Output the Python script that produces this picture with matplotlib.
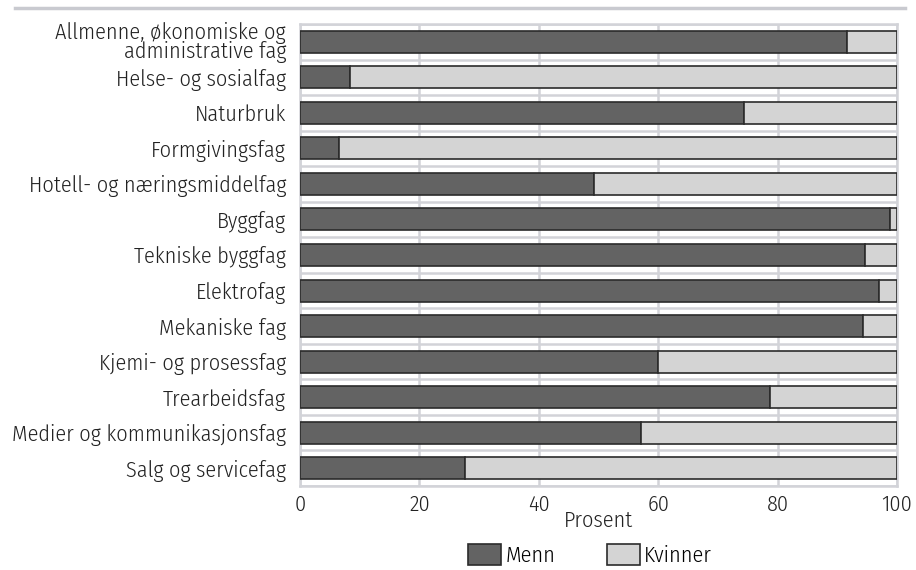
import matplotlib.pyplot as plt
from matplotlib.lines import Line2D
from matplotlib.patches import Patch

plt.rcParams['font.family'] = ['Fira Sans Condensed', 'DejaVu Sans']
plt.rcParams['font.weight'] = 300
plt.rcParams['axes.labelweight'] = 300

# Utdanningsprogram, andel menn og kvinner (prosent)
categories = [
    "Allmenne, økonomiske og\nadministrative fag",
    "Helse- og sosialfag",
    "Naturbruk",
    "Formgivingsfag",
    "Hotell- og næringsmiddelfag",
    "Byggfag",
    "Tekniske byggfag",
    "Elektrofag",
    "Mekaniske fag",
    "Kjemi- og prosessfag",
    "Trearbeidsfag",
    "Medier og kommunikasjonsfag",
    "Salg og servicefag",
]
menn = [91.6, 8.4, 74.4, 6.5, 49.3, 98.8, 94.6, 97.0, 94.3, 60.0, 78.8, 57.2, 27.6]
kvinner = [100 - m for m in menn]

dark = '#636363'
light = '#d4d4d4'
edge = '#2b2b2b'
gridc = '#d2d3d8'
txtc = '#222222'
fs = 16

fig = plt.figure(figsize=(9.16, 5.70), dpi=100)
ax = fig.add_axes([300 / 916, 1 - 486 / 570, 597 / 916, 462 / 570])

y = list(range(len(categories)))
ax.barh(y, menn, height=0.62, color=dark, edgecolor=edge, linewidth=1.2, zorder=3)
ax.barh(y, kvinner, left=menn, height=0.62, color=light, edgecolor=edge, linewidth=1.2, zorder=3)

ax.set_xlim(0, 100)
ax.set_ylim(len(categories) - 0.5, -0.5)
ax.set_xticks([0, 20, 40, 60, 80, 100])
ax.set_yticks(y)
ax.set_yticklabels(categories, fontsize=fs, linespacing=0.78)
ax.set_yticks([i + 0.5 for i in range(-1, len(categories))], minor=True)
ax.tick_params(axis='both', which='both', length=0, labelsize=fs, colors=txtc)
ax.tick_params(axis='y', pad=10)
ax.tick_params(axis='x', pad=6)

ax.grid(axis='x', which='major', color=gridc, linewidth=1.8, zorder=0)
ax.grid(axis='y', which='minor', color=gridc, linewidth=1.8, zorder=0)
for s in ax.spines.values():
    s.set_color(gridc)
    s.set_linewidth(1.8)

ax.set_xlabel('Prosent', fontsize=fs, labelpad=-4, color=txtc)

handles = [Patch(facecolor=dark, edgecolor=edge, linewidth=1.2),
           Patch(facecolor=light, edgecolor=edge, linewidth=1.2)]
fig.legend(handles, ['Menn', 'Kvinner'], loc='center', bbox_to_anchor=(590 / 916, 1 - 555 / 570),
           ncol=2, frameon=False, fontsize=fs, handlelength=1.5, handleheight=1.1,
           handletextpad=0.2, columnspacing=2.3, borderaxespad=0)

fig.add_artist(Line2D([15 / 916, 905 / 916], [1 - 8 / 570, 1 - 8 / 570], color='#c9cad0', linewidth=2.5))

fig.savefig('out.png', dpi=100)
